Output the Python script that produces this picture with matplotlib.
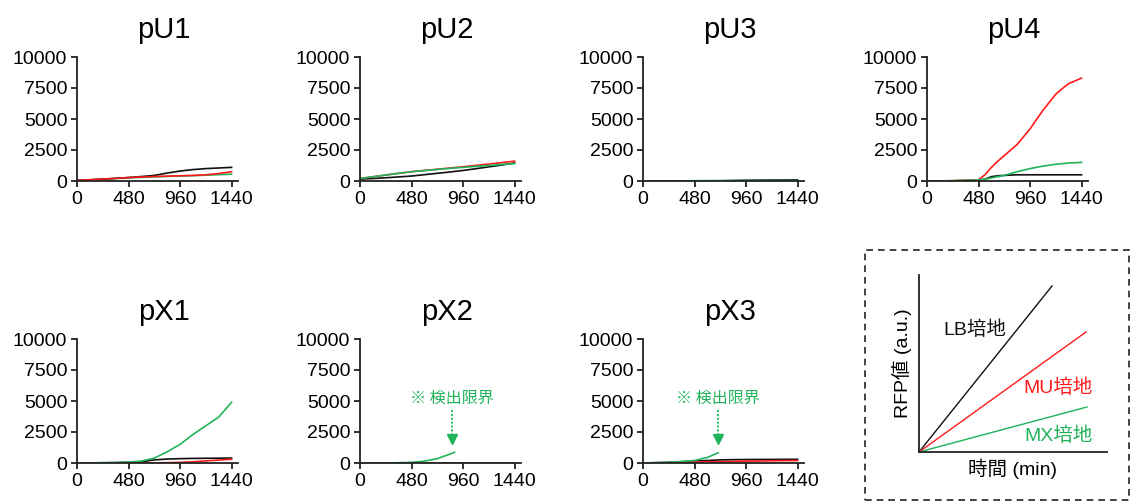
import matplotlib
matplotlib.use("Agg")
import matplotlib.pyplot as plt
from matplotlib.patches import Rectangle

plt.rcParams['font.family'] = ['Liberation Sans', 'Noto Sans CJK JP', 'DejaVu Sans']

RED = "#ff1a1a"
GREEN = "#1fb35a"
BLACK = "#111111"

# ---- data (time in min, RFP a.u.) ----
titles = ["pU1", "pU2", "pU3", "pU4", "pX1", "pX2", "pX3"]

t = [0, 120, 240, 360, 480, 600, 720, 840, 960, 1080, 1200, 1320, 1440]

pU1_lb = [50, 100, 150, 210, 280, 360, 450, 640, 800, 920, 1000, 1050, 1100]
pU1_mu = [50, 100, 160, 220, 280, 320, 360, 390, 420, 450, 500, 600, 750]
pU1_mx = [50, 90, 140, 200, 250, 290, 330, 370, 400, 430, 470, 510, 550]

pU2_lb = [150, 200, 260, 330, 400, 510, 620, 730, 850, 990, 1140, 1290, 1450]
pU2_mu = [200, 340, 480, 620, 750, 850, 950, 1050, 1150, 1260, 1370, 1480, 1600]
pU2_mx = [200, 340, 480, 620, 750, 840, 930, 1020, 1100, 1180, 1250, 1330, 1400]

pU3_lb = [0, 0, 5, 10, 15, 18, 20, 40, 60, 70, 80, 85, 90]
pU3_mu = [0, 0, 0, 0, 5, 5, 10, 10, 10, 15, 15, 20, 20]
pU3_mx = [10, 10, 15, 15, 20, 20, 25, 25, 30, 30, 35, 35, 40]

t_u4 = [0, 240, 480, 540, 600, 660, 720, 840, 960, 1080, 1200, 1260, 1320, 1440]
pU4_lb = [0, 20, 50, 150, 350, 420, 450, 500, 500, 500, 500, 500, 500, 500]
pU4_mu = [0, 20, 100, 500, 1100, 1600, 2050, 2950, 4200, 5700, 7000, 7450, 7850, 8300]
pU4_mx = [0, 20, 80, 150, 250, 350, 450, 750, 1000, 1200, 1350, 1400, 1450, 1500]

pX1_lb = [0, 10, 20, 30, 50, 100, 250, 320, 350, 370, 380, 390, 400]
pX1_mu = [0, 0, 0, 0, 0, 0, 10, 30, 50, 100, 170, 240, 300]
pX1_mx = [0, 10, 20, 40, 80, 150, 400, 900, 1500, 2300, 3000, 3700, 4900]

pX2_lb = [0, 0, 0, 0, 0, 0, 0, 0, 0, 0, 0, 0, 0]
pX2_mu = [0, 0, 0, 0, 0, 0, 0, 0, 0, 0, 0, 0, 0]
t_x2_mx = [0, 240, 480, 600, 720, 800, 880]
pX2_mx = [0, 0, 50, 150, 350, 600, 850]

pX3_lb = [0, 30, 50, 100, 150, 200, 250, 270, 280, 285, 290, 295, 300]
pX3_mu = [0, 10, 20, 50, 80, 100, 110, 130, 150, 160, 180, 190, 200]
t_x3_mx = [0, 240, 480, 600, 700]
pX3_mx = [0, 50, 200, 450, 820]

series = {
    "pU1": [(t, pU1_mx, GREEN), (t, pU1_lb, BLACK), (t, pU1_mu, RED)],
    "pU2": [(t, pU2_lb, BLACK), (t, pU2_mu, RED), (t, pU2_mx, GREEN)],
    "pU3": [(t, pU3_mu, RED), (t, pU3_lb, BLACK), (t, pU3_mx, GREEN)],
    "pU4": [(t_u4, pU4_lb, BLACK), (t_u4, pU4_mu, RED), (t_u4, pU4_mx, GREEN)],
    "pX1": [(t, pX1_lb, BLACK), (t, pX1_mu, RED), (t, pX1_mx, GREEN)],
    "pX2": [(t, pX2_lb, BLACK), (t, pX2_mu, RED), (t_x2_mx, pX2_mx, GREEN)],
    "pX3": [(t, pX3_lb, BLACK), (t, pX3_mu, RED), (t_x3_mx, pX3_mx, GREEN)],
}

# detection-limit annotation: (x of arrow, text y, arrow start y, arrow tip y)
limits = {"pX2": (858, 5200, 4300, 1950), "pX3": (697, 5200, 4300, 1950)}

xticks = [0, 480, 960, 1440]
yticks = [0, 2500, 5000, 7500, 10000]

# schematic legend lines (end points, arbitrary units)
leg_end_x = {"LB": 133, "MU": 167, "MX": 168}
leg_end_y = {"LB": 166, "MU": 120, "MX": 45}

W, H = 1131, 504
fig = plt.figure(figsize=(W / 100, H / 100), dpi=100)

lefts = [77, 360, 643, 927, 77, 360, 643]
tops = [57, 57, 57, 57, 339, 339, 339]
aw, ah = 161, 124


def style_axes(ax):
    ax.spines[['top', 'right']].set_visible(False)
    for s in ['left', 'bottom']:
        ax.spines[s].set_linewidth(1.3)
        ax.spines[s].set_color("#222222")


for name, left, top in zip(titles, lefts, tops):
    ax = fig.add_axes([left / W, 1 - (top + ah) / H, aw / W, ah / H])
    for xs, ys, c in series[name]:
        ax.plot(xs, ys, color=c, lw=1.2)
    ax.set_xlim(0, 1500)
    ax.set_ylim(0, 10000)
    ax.set_xticks(xticks)
    ax.set_yticks(yticks)
    style_axes(ax)
    ax.tick_params(labelsize=14, length=4, width=1.3, color="#222222", pad=3)
    ax.set_title(name, fontsize=21, x=0.54, pad=14)
    if name in limits:
        x, ty, y0, y1 = limits[name]
        ax.text(x, ty, "※ 検出限界", color=GREEN, fontsize=11.5, ha="center", va="center",
                family=['Noto Sans CJK JP', 'DejaVu Sans'])
        ax.plot([x, x], [y0, y1 + 400], color=GREEN, lw=1.4, ls=(0, (1, 1)))
        ax.plot([x], [y1], marker="v", color=GREEN, ms=7, lw=0)

# legend panel
fig.patches.append(Rectangle((865 / W, 1 - 500 / H), 264 / W, 250 / H, transform=fig.transFigure,
                             fill=False, ls=(0, (4, 3)), lw=1.2, ec="#222222"))

lax = fig.add_axes([919 / W, 1 - 452 / H, 188 / W, 177 / H])
for key, c in [("LB", BLACK), ("MU", RED), ("MX", GREEN)]:
    lax.plot([0, leg_end_x[key]], [0, leg_end_y[key]], color=c, lw=1)
lax.set_xlim(0, 188)
lax.set_ylim(0, 177)
lax.set_xticks([])
lax.set_yticks([])
style_axes(lax)
lax.text(56, 122, "LB培地", fontsize=14, ha="center", va="center", color=BLACK)
lax.text(139, 64, "MU培地", fontsize=14, ha="center", va="center", color=RED)
lax.text(139, 16, "MX培地", fontsize=14, ha="center", va="center", color=GREEN)
lax.set_xlabel("時間 (min)", fontsize=14, labelpad=5)
lax.set_ylabel("RFP値 (a.u.)", fontsize=14, labelpad=5)

fig.savefig("out.png", dpi=100)
